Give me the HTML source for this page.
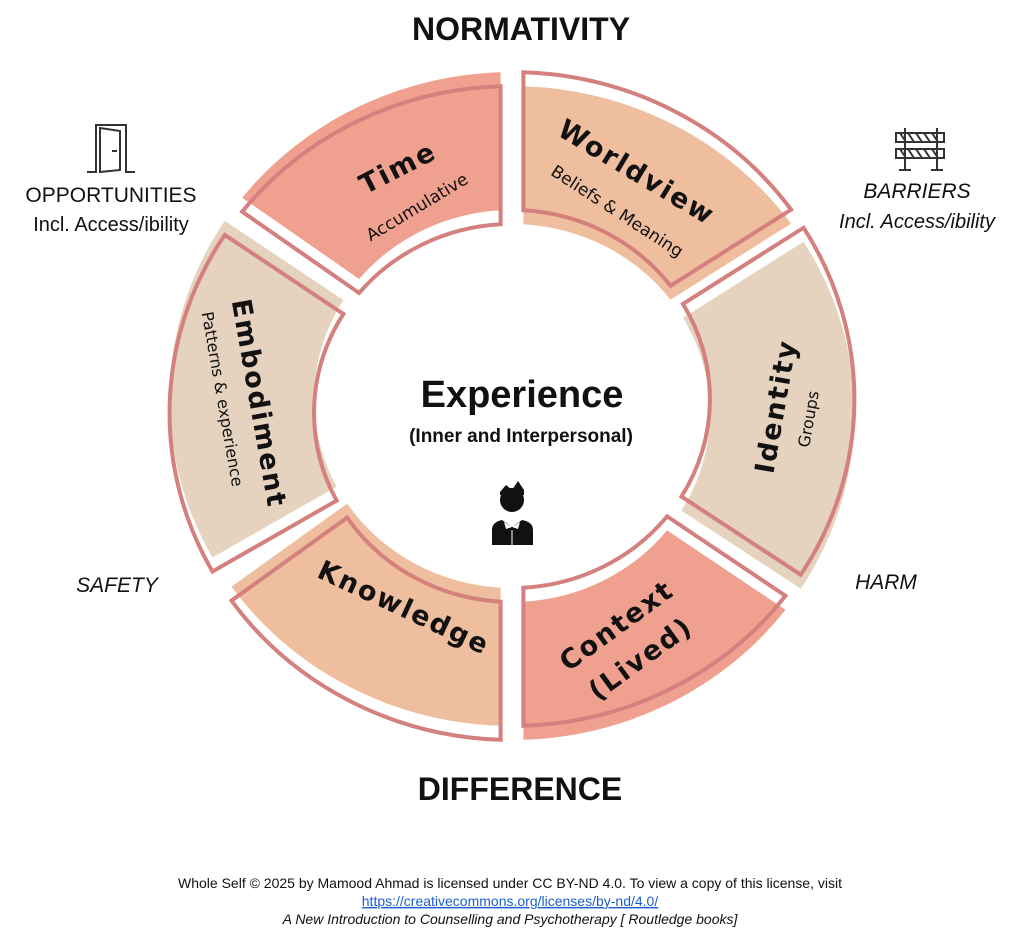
<!DOCTYPE html>
<html><head><meta charset="utf-8"><style>
html,body{margin:0;padding:0;background:#fff;}
svg{display:block;}
</style></head><body>
<svg width="1024" height="943" viewBox="0 0 1024 943" xmlns="http://www.w3.org/2000/svg" font-family="Liberation Sans, DejaVu Sans, sans-serif">
<path d="M242.2,197.7 A342.4,327 0 0 1 500.6,72.2 L500.6,210.3 A197.9,189 0 0 0 359.1,279 Z" fill="#EFA08F"/>
<path d="M523.4,86.2 A342.4,327 0 0 1 791.1,223.6 L670.5,299.8 A197.9,189 0 0 0 523.4,224.3 Z" fill="#EEBE9F"/>
<path d="M803.6,241.7 A342.4,327 0 0 1 800.8,588.7 L681.5,510.6 A197.9,189 0 0 0 683,317.9 Z" fill="#E5D3BF"/>
<path d="M785.5,609.8 A342.4,327 0 0 1 523.4,739.8 L523.4,601.7 A197.9,189 0 0 0 667.1,530.4 Z" fill="#EFA08F"/>
<path d="M500.6,725.8 A342.4,327 0 0 1 231.5,586.6 L347.2,503.6 A197.9,189 0 0 0 500.6,587.7 Z" fill="#EEBE9F"/>
<path d="M212.5,557.5 A342.4,327 0 0 1 224.8,220.9 L343.4,300 A197.9,189 0 0 0 336.6,486.6 Z" fill="#E5D3BF"/>
<g fill="none" stroke="#D4807F" stroke-width="4">
<path d="M242.2,211.7 A342.4,327 0 0 1 500.6,86.2 L500.6,224.3 A197.9,189 0 0 0 359.1,293 Z"/>
<path d="M523.4,72.2 A342.4,327 0 0 1 791.1,209.6 L670.5,285.8 A197.9,189 0 0 0 523.4,210.3 Z"/>
<path d="M803.6,227.7 A342.4,327 0 0 1 800.8,574.7 L681.5,496.6 A197.9,189 0 0 0 683,303.9 Z"/>
<path d="M785.5,595.8 A342.4,327 0 0 1 523.4,725.8 L523.4,587.7 A197.9,189 0 0 0 667.1,516.4 Z"/>
<path d="M500.6,739.8 A342.4,327 0 0 1 231.5,600.6 L347.2,517.6 A197.9,189 0 0 0 500.6,601.7 Z"/>
<path d="M212.5,571.5 A342.4,327 0 0 1 224.8,234.9 L343.4,314 A197.9,189 0 0 0 336.6,500.6 Z"/>
</g>
<g fill="#111" font-family="DejaVu Sans, sans-serif" text-anchor="middle">
<text transform="translate(402,176) rotate(-27)" font-size="27" font-weight="bold" letter-spacing="2">Time</text>
<text transform="translate(420,212) rotate(-31)" font-size="17">Accumulative</text>
<text transform="translate(632,180) rotate(31)" font-size="27" font-weight="bold" letter-spacing="2">Worldview</text>
<text transform="translate(614,216) rotate(33)" font-size="17">Beliefs &amp; Meaning</text>
<text transform="translate(785,408) rotate(-80)" font-size="27" font-weight="bold" letter-spacing="2">Identity</text>
<text transform="translate(814,420) rotate(-80)" font-size="16">Groups</text>
<text transform="translate(250,405) rotate(80)" font-size="27" font-weight="bold" letter-spacing="2">Embodiment</text>
<text transform="translate(217,400) rotate(80)" font-size="16">Patterns &amp; experience</text>
<text transform="translate(400,616) rotate(25)" font-size="27" font-weight="bold" letter-spacing="2">Knowledge</text>
<text transform="translate(622,633) rotate(-36)" font-size="27" font-weight="bold" letter-spacing="2">Context</text>
<text transform="translate(646,666) rotate(-36)" font-size="27" font-weight="bold" letter-spacing="2">(Lived)</text>
</g>
<text x="522" y="407" text-anchor="middle" font-size="38" font-weight="bold" fill="#111">Experience</text>
<text x="521" y="442" text-anchor="middle" font-size="19" font-weight="bold" fill="#111">(Inner and Interpersonal)</text>
<g fill="#111">
<circle cx="512" cy="500" r="12"/>
<path d="M500,492 L506,485 L512,490 L518,481 L524,490 L524,495 L500,495 Z"/>
<path d="M492,545 L492,530 Q492,522 502,520 L512,527 L522,520 Q533,522 533,530 L533,545 Z"/>
</g>
<path d="M504,522 L512,527 L520,522 L518,529 L512,527 L506,529 Z" fill="#fff"/>
<line x1="512" y1="530" x2="512" y2="545" stroke="#fff" stroke-width="1"/>
<text x="521" y="40" text-anchor="middle" font-size="32" font-weight="bold" fill="#111">NORMATIVITY</text>
<text x="520" y="800" text-anchor="middle" font-size="32" font-weight="bold" fill="#111">DIFFERENCE</text>
<text x="111" y="202" text-anchor="middle" font-size="21" fill="#111">OPPORTUNITIES</text>
<text x="111" y="231" text-anchor="middle" font-size="20" fill="#111">Incl. Access/ibility</text>
<text x="917" y="198" text-anchor="middle" font-size="21" font-style="italic" fill="#111">BARRIERS</text>
<text x="917" y="228" text-anchor="middle" font-size="20" font-style="italic" fill="#111">Incl. Access/ibility</text>
<text x="117" y="592" text-anchor="middle" font-size="21" font-style="italic" fill="#111">SAFETY</text>
<text x="886" y="589" text-anchor="middle" font-size="21" font-style="italic" fill="#111">HARM</text>
<g fill="none" stroke="#333" stroke-width="2">
<path d="M87,172 L96,172 L96,125 L126,125 L126,172 L135,172"/>
<path d="M100,172 L100,128 L120,131 L120,170 Z"/>
<path d="M112,151 L117,151"/>
</g>
<g stroke="#333" stroke-width="2" fill="none">
<rect x="896" y="133" width="48" height="9"/>
<rect x="896" y="149" width="48" height="9"/>
<path d="M905,128 L905,170 M937,128 L937,170 M899,170 L911,170 M931,170 L943,170"/>
<path d="M900,133 L906,142 M908,133 L914,142 M916,133 L922,142 M924,133 L930,142 M932,133 L938,142 M900,149 L906,158 M908,149 L914,158 M916,149 L922,158 M924,149 L930,158 M932,149 L938,158"/>
</g>
<text x="510" y="888" text-anchor="middle" font-size="14" fill="#111">Whole Self © 2025 by Mamood Ahmad is licensed under CC BY-ND 4.0. To view a copy of this license, visit</text>
<text x="510" y="906" text-anchor="middle" font-size="14" fill="#1a5fd0" text-decoration="underline">https://creativecommons.org/licenses/by-nd/4.0/</text>
<text x="510" y="924" text-anchor="middle" font-size="14" font-style="italic" fill="#111">A New Introduction to Counselling and Psychotherapy [ Routledge books]</text>
</svg>
</body></html>
